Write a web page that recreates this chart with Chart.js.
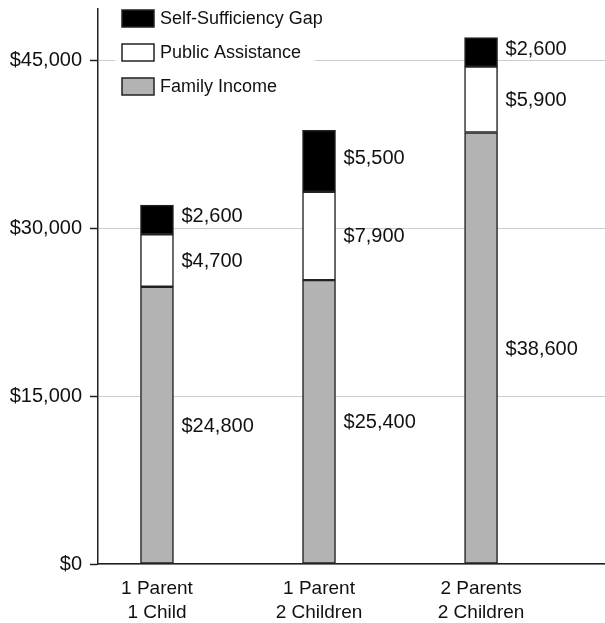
<!DOCTYPE html>
<html>
<head>
<meta charset="utf-8">
<script src="https://cdn.jsdelivr.net/npm/chart.js@4/dist/chart.umd.min.js"></script>
<style>
  html, body { margin: 0; padding: 0; background: #fff; }
  #chart { display: block; }
</style>
</head>
<body>
<canvas id="chart" width="605" height="623"></canvas>
<script>
// ------------- Data -------------
const categories       = [['1 Parent', '1 Child'], ['1 Parent', '2 Children'], ['2 Parents', '2 Children']];
const familyIncome     = [24800, 25400, 38600];
const publicAssistance = [4700, 7900, 5900];
const selfSuffGap      = [2600, 5500, 2600];
const yTicks           = [0, 15000, 30000, 45000];

const FONT = '"Liberation Sans", Helvetica, Arial, sans-serif';
const money = v => '$' + v.toLocaleString('en-US');
const pts = arr => arr.map((v, i) => ({ x: i, y: v }));

// ------------- Plugins -------------
// value labels right of each segment
const segLabels = {
  id: 'segLabels',
  afterDatasetsDraw(chart) {
    const ctx = chart.ctx;
    ctx.save();
    ctx.font = '20px ' + FONT;
    ctx.fillStyle = '#111';
    ctx.textAlign = 'left';
    ctx.textBaseline = 'middle';
    chart.data.datasets.forEach((ds, di) => {
      const meta = chart.getDatasetMeta(di);
      const dy = di === 2 ? -3 : 1; // gap labels sit a bit high
      meta.data.forEach((el, i) => {
        const x = el.x + el.width / 2 + 8;
        const y = (el.y + el.base) / 2 + dy;
        ctx.fillText(money(ds.data[i].y), x, y);
      });
    });
    ctx.restore();
  }
};

// legend box inside plot, top-left, on white
const boxLegend = {
  id: 'boxLegend',
  afterDraw(chart) {
    const ctx = chart.ctx;
    const left = chart.chartArea.left + 24;
    const top = chart.chartArea.top + 1;
    const step = 34;
    const items = chart.data.datasets.slice().reverse();
    ctx.save();
    ctx.fillStyle = '#fff';
    ctx.fillRect(left - 7, top - 2, 200, step * items.length);
    ctx.font = '18px ' + FONT;
    ctx.textBaseline = 'middle';
    items.forEach((ds, i) => {
      const y = top + i * step;
      ctx.fillStyle = ds.backgroundColor;
      ctx.fillRect(left, y, 32, 17);
      ctx.lineWidth = 1.5;
      ctx.strokeStyle = '#222';
      ctx.strokeRect(left, y, 32, 17);
      ctx.fillStyle = '#111';
      ctx.fillText(ds.label, left + 38, y + 9);
    });
    ctx.restore();
  }
};

// ------------- Chart -------------
const segStyle = { borderColor: '#222', borderWidth: 1.5, barThickness: 33, borderSkipped: false };

new Chart(document.getElementById('chart'), {
  type: 'bar',
  data: {
    datasets: [
      { label: 'Family Income', data: pts(familyIncome), backgroundColor: '#b3b3b3', ...segStyle },
      { label: 'Public Assistance', data: pts(publicAssistance), backgroundColor: '#ffffff', ...segStyle },
      { label: 'Self-Sufficiency Gap', data: pts(selfSuffGap), backgroundColor: '#000000', ...segStyle }
    ]
  },
  options: {
    responsive: false,
    animation: false,
    layout: { padding: { top: 9, right: 0, left: 0, bottom: 0 } },
    plugins: { legend: { display: false }, tooltip: { enabled: false } },
    scales: {
      x: {
        type: 'linear',
        stacked: true,
        offset: false,
        min: -0.364,
        max: 2.765,
        afterBuildTicks: s => { s.ticks = categories.map((c, i) => ({ value: i })); },
        afterFit: s => { s.height = 59; s.paddingLeft = 0; s.paddingRight = 0; },
        grid: { display: false, drawTicks: false, offset: false },
        border: { color: '#222', width: 1.5 },
        ticks: {
          callback: v => categories[v],
          color: '#111',
          padding: 13,
          maxRotation: 0,
          font: { family: FONT, size: 19, lineHeight: 1.25 }
        }
      },
      y: {
        stacked: true,
        min: 0,
        max: 49650,
        afterBuildTicks: s => { s.ticks = yTicks.map(v => ({ value: v })); },
        afterFit: s => { s.width = 98; s.paddingTop = 0; s.paddingBottom = 0; },
        grid: { color: '#cccccc', lineWidth: 1, tickColor: '#222', tickLength: 8, tickWidth: 1.5 },
        border: { color: '#222', width: 1.5 },
        ticks: {
          callback: v => money(v),
          color: '#111',
          padding: 8,
          font: { family: FONT, size: 20 }
        }
      }
    }
  },
  plugins: [segLabels, boxLegend]
});
</script>
</body>
</html>
